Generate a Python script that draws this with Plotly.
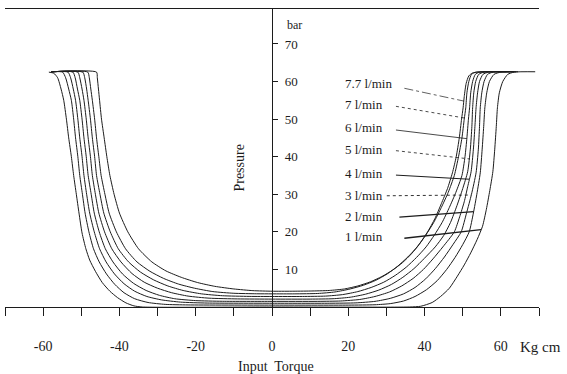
import plotly.graph_objects as go

# ---- data -------------------------------------------------------------
flow_labels = ["1 l/min", "2 l/min", "3 l/min", "4 l/min",
               "5 l/min", "6 l/min", "7 l/min", "7.7 l/min"]

# input torque (Kg cm) and pressure (bar) along each curve
torque_1 = [-58.5, -57.2, -56.2, -55.3, -54.6, -53.9, -53.3, -52.6, -52.0, -51.3, -50.6,
            -49.8, -48.8, -47.8, -46.3, -44.5, -42.5, -40.5, -38.3, -36.2, -34.0, 0,
            36, 39, 42, 44.2, 46.5, 48.6, 50.4, 52.1, 53.8, 55.2, 56.2, 57.1, 57.9, 58.4,
            58.8, 59.1, 59.6, 60.5, 61.8, 63.5, 69]
pressure_1 = [62.5, 62.2, 61, 58, 55, 50, 45, 40, 35, 30, 25,
              19.7, 15.5, 12.5, 9.5, 6.5, 4.2, 2.5, 1.1, 0.3, 0, 0,
              0, 0.2, 1.2, 2.8, 5, 8.2, 11.2, 14.4, 18, 21.5, 26, 31, 36, 42,
              48, 53, 57, 60, 61.9, 62.5, 62.6]

torque_2 = [-57.8, -54.9, -54.1, -53.3, -52.6, -52.0, -51.5, -50.9, -50.4, -49.7, -49.0,
            -48.0, -46.8, -45.3, -43.4, -41.2, -38.8, -36.0, -32.5, -28.0, -22.0, 0,
            20, 27, 31, 34.5, 37.5, 40.5, 43.3, 45.8, 48.0, 50.0, 51.7, 52.8, 53.7, 54.6,
            55.1, 55.5, 55.8, 56.3, 57.0, 58.2, 60.0, 64.5]
pressure_2 = [62.6, 62.5, 61, 58, 55, 50, 45, 40, 35, 30, 25,
              20, 15.5, 12, 8.8, 6, 3.8, 2.2, 1.2, 0.7, 0.55, 0.5,
              0.5, 0.6, 0.9, 1.6, 2.8, 4.6, 7, 10, 13.2, 16.6, 20, 25, 30, 35.7,
              42, 48, 53, 57, 60, 61.9, 62.5, 62.6]

torque_3 = [-57.8, -53.5, -52.8, -52.1, -51.5, -50.9, -50.4, -49.8, -49.3, -48.6, -47.8,
            -46.6, -45.2, -43.5, -41.3, -38.8, -36.0, -32.8, -29.0, -24.0, -17.0, 0,
            15, 22, 27, 31, 34.5, 37.5, 40.3, 42.8, 45.2, 47.5, 49.6, 51.0, 52.3, 53.5,
            54.1, 54.4, 54.6, 55.0, 55.6, 56.5, 58.0, 64]
pressure_3 = [62.6, 62.5, 61, 58, 55, 50, 45, 40, 35, 30, 25,
              20, 15.5, 12, 8.8, 6.2, 4.2, 2.8, 1.9, 1.3, 1.05, 1.0,
              1.0, 1.1, 1.5, 2.3, 3.5, 5.2, 7.5, 10.2, 13.3, 16.7, 20, 25, 30, 35.7,
              42, 48, 53, 57, 60, 61.9, 62.5, 62.6]

torque_4 = [-57.8, -52.2, -51.6, -51.0, -50.4, -49.8, -49.3, -48.7, -48.2, -47.4, -46.6,
            -45.3, -43.7, -41.7, -39.2, -36.3, -33.0, -29.5, -25.5, -20.0, -13.0, 0,
            12, 18, 23, 27, 30.8, 34, 37, 39.7, 42.2, 44.8, 47.8, 49.2, 50.4, 51.3,
            52.2, 52.8, 53.2, 53.5, 53.9, 54.4, 55.3, 56.8, 63.5]
pressure_4 = [62.6, 62.5, 61, 58, 55, 50, 45, 40, 35, 30, 25,
              20, 15.5, 12, 8.8, 6.3, 4.4, 3.1, 2.2, 1.7, 1.52, 1.5,
              1.5, 1.6, 2.0, 2.8, 4.0, 5.6, 7.6, 10, 12.8, 16, 20, 24, 28, 32,
              36, 42, 48, 53, 57, 60, 61.9, 62.5, 62.6]

torque_5 = [-57.8, -50.9, -50.4, -49.8, -49.3, -48.7, -48.2, -47.6, -47.1, -46.3, -45.4,
            -43.9, -42.0, -39.6, -36.7, -33.5, -30.0, -26.3, -22.0, -16.5, -9.0, 0,
            10, 16, 20.5, 24.5, 28, 31.3, 34.3, 37.2, 39.9, 42.8, 45.0, 46.8, 48.5, 50.0,
            51.3, 52.0, 52.4, 52.6, 52.9, 53.4, 54.2, 55.6, 63]
pressure_5 = [62.6, 62.5, 61, 58, 55, 50, 45, 40, 35, 30, 25,
              20, 15.5, 12, 8.9, 6.6, 5.0, 3.8, 2.9, 2.35, 2.15, 2.1,
              2.1, 2.2, 2.6, 3.4, 4.5, 6.0, 7.9, 10.2, 12.9, 16, 19, 22.5, 27, 31.5,
              36, 42, 48, 53, 57, 60, 61.9, 62.5, 62.6]

torque_6 = [-57.8, -49.6, -49.1, -48.6, -48.2, -47.6, -47.1, -46.5, -46.0, -45.1, -44.1,
            -42.4, -40.3, -37.6, -34.5, -31.0, -27.3, -23.3, -18.5, -13.0, -6.0, 0,
            8, 14, 18.5, 22.5, 26, 29.3, 32.3, 35.2, 37.9, 40.4, 42.6, 44.6, 46.5, 48.2,
            49.8, 50.6, 51.1, 51.5, 51.8, 52.1, 52.6, 53.3, 54.5, 62.5]
pressure_6 = [62.6, 62.5, 61, 58, 55, 50, 45, 40, 35, 30, 25,
              20, 15.5, 12, 9.3, 7.2, 5.6, 4.4, 3.5, 3.0, 2.82, 2.8,
              2.8, 2.9, 3.3, 4.1, 5.2, 6.6, 8.4, 10.6, 13.2, 16, 19.2, 22.5, 26.5, 30.5,
              35, 40, 45, 50, 53, 57, 60, 61.9, 62.5, 62.6]

torque_7 = [-57.8, -48.3, -47.9, -47.5, -47.1, -46.5, -46.0, -45.4, -44.8, -43.8, -42.7,
            -40.8, -38.4, -35.4, -32.0, -28.4, -24.5, -20.3, -15.5, -10.0, -4.0, 0,
            6, 12, 16.5, 20.5, 24, 27.2, 30.2, 33, 35.6, 38.1, 40.3, 42.4, 44.4, 46.2,
            47.8, 48.9, 49.8, 50.4, 50.8, 51.1, 51.6, 52.3, 53.5, 62]
pressure_7 = [62.6, 62.5, 61, 58, 55, 50, 45, 40, 35, 30, 25,
              20, 15.5, 12, 9.5, 7.6, 6.1, 5.0, 4.1, 3.65, 3.52, 3.5,
              3.5, 3.6, 4.0, 4.8, 5.8, 7.1, 8.8, 10.9, 13.3, 16, 19.1, 22.5, 26.5, 30.5,
              35, 40, 45, 50, 53, 57, 60, 61.9, 62.5, 62.6]

torque_77 = [-57.8, -46.0, -45.8, -45.5, -45.2, -44.7, -44.0, -43.3, -42.5, -41.4, -40.0,
             -37.8, -35.0, -31.5, -27.8, -23.8, -19.5, -15.0, -10.0, -5.0, 0,
             5, 10, 15, 19, 22.5, 25.8, 28.8, 31.6, 34.2, 36.6, 38.8, 40.8, 42.7, 44.4,
             46.0, 47.3, 48.3, 49.1, 49.7, 50.1, 50.4, 50.9, 51.6, 52.6, 54, 61.5]
pressure_77 = [62.6, 62.5, 61, 58, 55, 50, 45, 40, 35, 30, 25,
               20, 15.5, 12, 9.6, 7.9, 6.5, 5.5, 4.8, 4.35, 4.2,
               4.2, 4.25, 4.4, 4.8, 5.6, 6.7, 8.1, 9.8, 11.8, 14.2, 17, 20, 23.5, 27.5,
               31.5, 35.7, 40, 45, 50, 53, 56, 59.5, 61.5, 62.3, 62.5, 62.6]

# flow-rate labels and their leader lines (label end -> curve)
label_torque = [18.5, 18.5, 18.5, 18.5, 18.5, 18.5, 18.5, 18.5]
label_pressure = [18.7, 24.2, 29.8, 35.6, 41.8, 47.7, 54.0, 59.4]
leader_start_torque = [34.7, 33.4, 30.1, 32.5, 32.5, 32.5, 32.5, 34.7]
leader_start_pressure = [18.3, 23.9, 29.6, 35.1, 41.6, 47.1, 53.4, 58.2]
leader_end_torque = [54.8, 52.9, 52.2, 51.7, 51.8, 51.1, 50.4, 50.3]
leader_end_pressure = [20.6, 25.4, 29.8, 34.0, 39.4, 44.8, 50.3, 54.8]
leader_dash = ["solid", "solid", "dot", "solid", "dot", "solid", "dot", "dashdot"]
leader_width = [1.3, 1.3, 0.9, 1.0, 0.8, 0.8, 0.8, 0.7]

x_ticks = [-70, -60, -50, -40, -30, -20, -10, 0, 10, 20, 30, 40, 50, 60, 70]
x_tick_text = ["", "-60", "", "-40", "", "-20", "", "0", "", "20", "", "40", "", "60", ""]
y_ticks = [10, 20, 30, 40, 50, 60, 70]

# ---- figure -----------------------------------------------------------
SERIF = "Liberation Serif, Times New Roman, serif"
INK = "#1c1c1c"

curves = [(torque_1, pressure_1), (torque_2, pressure_2), (torque_3, pressure_3),
          (torque_4, pressure_4), (torque_5, pressure_5), (torque_6, pressure_6),
          (torque_7, pressure_7), (torque_77, pressure_77)]

fig = go.Figure()
for name, (tq, pr) in zip(flow_labels, curves):
    fig.add_trace(go.Scatter(
        x=tq, y=pr, mode="lines", name=name, showlegend=False, hoverinfo="skip",
        line=dict(color=INK, width=1, shape="spline", smoothing=0.6)))

for i in range(len(flow_labels)):
    fig.add_trace(go.Scatter(
        x=[leader_start_torque[i], leader_end_torque[i]],
        y=[leader_start_pressure[i], leader_end_pressure[i]],
        mode="lines", showlegend=False, hoverinfo="skip",
        line=dict(color=INK, width=leader_width[i], dash=leader_dash[i])))
    fig.add_annotation(x=label_torque[i], y=label_pressure[i], text=flow_labels[i],
                       xanchor="left", yanchor="middle", showarrow=False,
                       font=dict(family=SERIF, size=13, color=INK))

fig.add_annotation(x=3.3, y=75, text="bar", xanchor="left", yanchor="middle",
                   showarrow=False, font=dict(family=SERIF, size=12, color=INK))
fig.add_annotation(x=-8.5, y=37, text="Pressure", textangle=-90, xanchor="center",
                   yanchor="middle", showarrow=False,
                   font=dict(family=SERIF, size=14, color=INK))
fig.add_annotation(x=64.4, xref="x", y=-0.134, yref="paper", text="Kg cm",
                   xanchor="left", yanchor="middle", showarrow=False,
                   font=dict(family=SERIF, size=15, color=INK))
fig.add_annotation(x=1, xref="x", y=-0.198, yref="paper", text="Input  Torque",
                   xanchor="center", yanchor="middle", showarrow=False,
                   font=dict(family=SERIF, size=14, color=INK))

fig.update_layout(
    width=567, height=374,
    margin=dict(l=5, r=28, t=9, b=67),
    paper_bgcolor="white", plot_bgcolor="white",
    font=dict(family=SERIF, color=INK),
    showlegend=False,
    xaxis=dict(range=[-70, 70], showline=True, mirror=True, linecolor=INK, linewidth=1,
               ticks="outside", ticklen=8, tickcolor=INK, tickvals=x_ticks,
               ticktext=x_tick_text, tickfont=dict(family=SERIF, size=14, color=INK),
               ticklabelstandoff=18, showgrid=False, zeroline=False),
    yaxis=dict(range=[0, 79.3], anchor="free", position=0.5, side="right",
               showline=True, linecolor=INK, linewidth=1.2,
               ticks="outside", ticklen=5, tickcolor=INK, tickvals=y_ticks,
               tickfont=dict(family=SERIF, size=13, color=INK),
               ticklabelstandoff=4, showgrid=False, zeroline=False),
    yaxis2=dict(range=[0, 79.3], overlaying="y", anchor="x", side="left",
                showline=True, mirror=True, linecolor=INK, linewidth=1,
                ticks="", showticklabels=False, showgrid=False, zeroline=False),
    yaxis3=dict(range=[0, 79.3], overlaying="y", anchor="free", position=0.5,
                side="left", showline=False, ticks="outside", ticklen=5,
                tickcolor=INK, tickvals=y_ticks, showticklabels=False,
                showgrid=False, zeroline=False),
)

fig.write_html("out.html")
